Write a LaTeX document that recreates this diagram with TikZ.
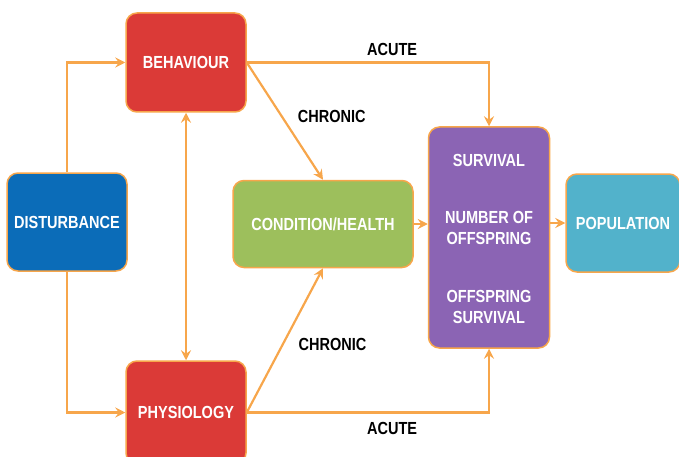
\documentclass[tikz,border=0pt]{standalone}
\usepackage{fontspec}
\setmainfont{Liberation Sans}[FakeStretch=0.83]
\usetikzlibrary{arrows.meta}
\definecolor{linkorange}{HTML}{F7A64B}
\definecolor{distblue}{HTML}{0B6CB8}
\definecolor{respred}{HTML}{DB3A37}
\definecolor{condgreen}{HTML}{9DBF5C}
\definecolor{fitpurple}{HTML}{8B64B4}
\definecolor{popteal}{HTML}{52B2CB}

\begin{document}
\begin{tikzpicture}[x=1pt, y=-1pt,
    box/.style={draw=linkorange, line width=1.5pt, rounded corners=11pt, text=white,
      font=\bfseries\fontsize{17.5}{20.5}\selectfont, align=center, inner sep=0pt},
    boxtext/.style={text=white, font=\bfseries\fontsize{17.5}{20.5}\selectfont, align=center, inner sep=0pt},
    link/.style={draw=linkorange, line width=2.2pt, -{Stealth[length=10pt, width=10pt, inset=3.5pt]}},
    lbl/.style={font=\bfseries\fontsize{17.5}{20.5}\selectfont, inner sep=0pt}]
        \useasboundingbox (0,0) rectangle (679,457);
        \clip (0,0) rectangle (679,457);
        % boxes
        \node[box, fill=distblue, minimum width=120pt, minimum height=98pt] (dist) at (67,222) {DISTURBANCE};
        \node[box, fill=respred, minimum width=120pt, minimum height=99pt] (beh) at (186,62.5) {BEHAVIOUR};
        \node[box, fill=respred, minimum width=120pt, minimum height=103pt] (phys) at (186,412.5) {PHYSIOLOGY};
        \node[box, fill=condgreen, minimum width=180pt, minimum height=87pt] (cond) at (323,224) {CONDITION/HEALTH};
        \node[box, fill=fitpurple, minimum width=121pt, minimum height=221pt] (fit) at (489,237.5) {};
        \node[box, fill=popteal, minimum width=114pt, minimum height=98pt] (pop) at (623,223) {POPULATION};
        \node[boxtext] (surv) at (489,160) {SURVIVAL};
        \node[boxtext] (numoff) at (489,228) {NUMBER OF\\OFFSPRING};
        \node[boxtext] (offsurv) at (489,307) {OFFSPRING\\SURVIVAL};
        % links
        \draw[link] (dist.north) |- (beh.west);
        \draw[link] (dist.south) |- (phys.west);
        \draw[link, {Stealth[length=10pt, width=10pt, inset=3.5pt]}-{Stealth[length=10pt, width=10pt, inset=3.5pt]}] (beh.south) -- (phys.north);
        \draw[link] (beh.east) -| (fit.north) node[lbl, pos=0.3, above=6pt] {ACUTE};
        \draw[link] (beh.east) -- (cond.north) node[lbl, pos=0.46, anchor=west, xshift=15pt] {CHRONIC};
        \draw[link] (phys.east) -- (cond.south) node[lbl, pos=0.47, anchor=west, xshift=15pt] {CHRONIC};
        \draw[link] (phys.east) -| (fit.south) node[lbl, pos=0.3, below=9pt] {ACUTE};
        \draw[link] (cond.east) -- (cond.east -| fit.west);
        \draw[link] (fit.east |- pop.west) -- (pop.west);
\end{tikzpicture}
\end{document}
